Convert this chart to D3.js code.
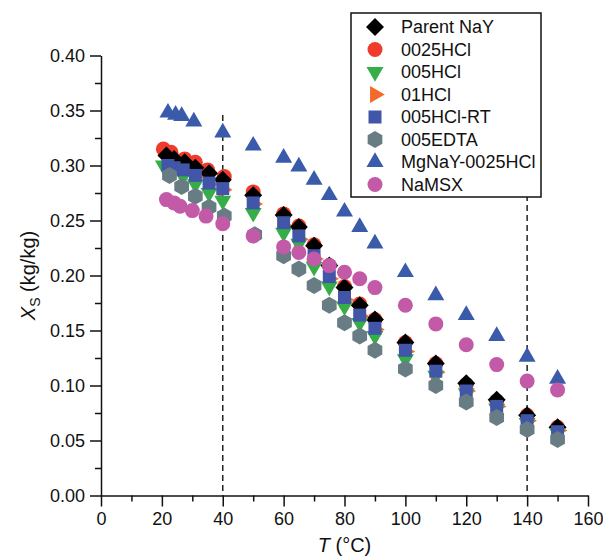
<!DOCTYPE html>
<html>
<head>
<meta charset="utf-8">
<script src="https://cdn.jsdelivr.net/npm/d3@7"></script>
<style>
  body { margin: 0; background: #fff; }
  text { font-family: "Liberation Sans", Arial, sans-serif; fill: #111; }
  .axis path, .axis line { stroke: #111; stroke-width: 1.5; }
</style>
</head>
<body>
<div id="chart"></div>
<script>
// data points: [T (°C), Xs (kg/kg)]
const parentNaY = [[21.5,0.309],[24,0.306],[27.5,0.303],[31,0.298],[35.5,0.293],[40,0.287],[50,0.273],[60,0.255],[65,0.244],[70,0.227],[75,0.209],[80,0.189],[85,0.173],[90,0.160],[100,0.139],[110,0.120],[120,0.102],[130,0.087],[140,0.073],[150,0.062]];
const hcl0025 = [[20.5,0.315],[23,0.312],[27.5,0.306],[31,0.303],[35,0.296],[40.5,0.290],[50,0.276],[60,0.256],[65,0.245],[70,0.228],[75,0.209],[80,0.190],[85,0.174],[90,0.160],[100,0.139],[110,0.120],[120,0.101],[130,0.086],[140,0.073],[150,0.062]];
const hcl005 = [[20.5,0.300],[23,0.296],[27,0.290],[31,0.283],[35.5,0.275],[40,0.268],[50,0.257],[60,0.239],[65,0.229],[70,0.208],[75,0.190],[80,0.172],[85,0.157],[90,0.145],[100,0.124],[110,0.109],[120,0.093],[130,0.079],[140,0.066],[150,0.057]];
const hcl01 = [[22,0.301],[24,0.299],[27,0.296],[31,0.290],[35.5,0.283],[40,0.278],[50,0.265],[60,0.245],[65,0.233],[70,0.215],[75,0.197],[80,0.178],[85,0.163],[90,0.151],[100,0.131],[110,0.112],[120,0.095],[130,0.081],[140,0.068],[150,0.059]];
const hcl005RT = [[22,0.300],[24,0.298],[27,0.296],[31,0.291],[35.5,0.284],[40,0.279],[50,0.266],[60,0.248],[65,0.236],[70,0.218],[75,0.199],[80,0.180],[85,0.164],[90,0.152],[100,0.132],[110,0.113],[120,0.095],[130,0.081],[140,0.068],[150,0.058]];
const edta005 = [[22.5,0.291],[26.5,0.281],[31,0.272],[35.5,0.262],[40.5,0.254],[50.5,0.237],[60,0.218],[65,0.206],[70,0.191],[75,0.173],[80,0.157],[85,0.145],[90,0.132],[100,0.115],[110,0.100],[120,0.085],[130,0.071],[140,0.060],[150,0.051]];
const mgNaY = [[22,0.348],[24.5,0.346],[26.5,0.345],[30.5,0.340],[40,0.330],[50,0.318],[60,0.307],[65,0.299],[70,0.287],[75,0.273],[80,0.258],[85,0.244],[90,0.229],[100,0.203],[110,0.182],[120,0.164],[130,0.145],[140,0.126],[150,0.106]];
const naMSX = [[21.5,0.269],[24,0.266],[26,0.263],[30,0.259],[34.5,0.254],[40,0.247],[50,0.236],[60,0.226],[65,0.221],[70,0.215],[75,0.209],[80,0.203],[85,0.197],[90,0.189],[100,0.173],[110,0.156],[120,0.137],[130,0.119],[140,0.104],[150,0.096]];

const legendNames = ["Parent NaY", "0025HCl", "005HCl", "01HCl", "005HCl-RT", "005EDTA", "MgNaY-0025HCl", "NaMSX"];
const xTicks = [0, 20, 40, 60, 80, 100, 120, 140, 160];
const xMinor = [10, 30, 50, 70, 90, 110, 130, 150];
const yTicks = [0, 0.05, 0.10, 0.15, 0.20, 0.25, 0.30, 0.35, 0.40];
const yMinor = [0.025, 0.075, 0.125, 0.175, 0.225, 0.275, 0.325, 0.375];
const dashedT = [40, 140];

// custom marker shapes, "size" = half width in px
const shapes = {
    circle: { draw(c, r) { c.moveTo(r, 0); c.arc(0, 0, r, 0, 2 * Math.PI); } },
    diamond: { draw(c, r) { c.moveTo(0, -r); c.lineTo(r, 0); c.lineTo(0, r); c.lineTo(-r, 0); c.closePath(); } },
    square: { draw(c, r) { c.rect(-r, -r, 2 * r, 2 * r); } },
    triUp: { draw(c, r) { const R = r / Math.sin(Math.PI / 3); c.moveTo(0, -R); c.lineTo(r, R / 2); c.lineTo(-r, R / 2); c.closePath(); } },
    triDown: { draw(c, r) { const R = r / Math.sin(Math.PI / 3); c.moveTo(0, R); c.lineTo(r, -R / 2); c.lineTo(-r, -R / 2); c.closePath(); } },
    triRight: { draw(c, r) { const R = r / Math.sin(Math.PI / 3); c.moveTo(R, 0); c.lineTo(-R / 2, r); c.lineTo(-R / 2, -r); c.closePath(); } },
    hexagon: { draw(c, r) { for (let k = 0; k < 6; k++) { const a = Math.PI / 2 + k * Math.PI / 3; const px = r * Math.cos(a), py = -r * Math.sin(a); k ? c.lineTo(px, py) : c.moveTo(px, py); } c.closePath(); } }
};

const series = [
    { name: legendNames[0], data: parentNaY, shape: "diamond", size: 9, color: "#000000" },
    { name: legendNames[1], data: hcl0025, shape: "circle", size: 7.5, color: "#ee3b2c" },
    { name: legendNames[2], data: hcl005, shape: "triDown", size: 8.5, color: "#35ae48" },
    { name: legendNames[3], data: hcl01, shape: "triRight", size: 8.5, color: "#f26b2b" },
    { name: legendNames[4], data: hcl005RT, shape: "square", size: 6.5, color: "#4156a8" },
    { name: legendNames[5], data: edta005, shape: "hexagon", size: 8.5, color: "#677d83" },
    { name: legendNames[6], data: mgNaY, shape: "triUp", size: 8.5, color: "#3a5aaa" },
    { name: legendNames[7], data: naMSX, shape: "circle", size: 7.5, color: "#c25aa8" }
];
// drawing order (later on top)
const drawOrder = [1, 3, 0, 2, 4, 5, 6, 7];

const W = 603, H = 560;
const x = d3.scaleLinear().domain([0, 160]).range([101, 588]);
const y = d3.scaleLinear().domain([0, 0.40]).range([495.5, 55.5]);

const svg = d3.select("#chart").append("svg")
    .attr("width", W).attr("height", H);

// dashed guide lines
svg.selectAll("line.guide")
    .data(dashedT)
    .enter().append("line")
    .attr("class", "guide")
    .attr("x1", d => x(d)).attr("x2", d => x(d))
    .attr("y1", y(0.346)).attr("y2", y(0))
    .attr("stroke", "#222").attr("stroke-width", 1.5)
    .attr("stroke-dasharray", "6,4");

// axes
const xAxis = svg.append("g").attr("class", "axis")
    .attr("transform", `translate(0,${y(0)})`)
    .call(d3.axisBottom(x).tickValues(xTicks).tickSize(11).tickSizeOuter(0).tickPadding(6));
xAxis.selectAll("text").style("font-size", "18px");
svg.append("g").attr("class", "axis")
    .attr("transform", `translate(0,${y(0)})`)
    .call(d3.axisBottom(x).tickValues(xMinor).tickSize(6).tickSizeOuter(0).tickFormat(""))
    .select(".domain").remove();

const yAxis = svg.append("g").attr("class", "axis")
    .attr("transform", `translate(${x(0)},0)`)
    .call(d3.axisLeft(y).tickValues(yTicks).tickSize(11).tickSizeOuter(0).tickPadding(5).tickFormat(d3.format(".2f")));
yAxis.selectAll("text").style("font-size", "18px");
svg.append("g").attr("class", "axis")
    .attr("transform", `translate(${x(0)},0)`)
    .call(d3.axisLeft(y).tickValues(yMinor).tickSize(6).tickSizeOuter(0).tickFormat(""))
    .select(".domain").remove();

// axis titles
const xTitle = svg.append("text")
    .attr("x", (x.range()[0] + x.range()[1]) / 2)
    .attr("y", 552)
    .attr("text-anchor", "middle")
    .style("font-size", "20px");
xTitle.append("tspan").style("font-style", "italic").text("T");
xTitle.append("tspan").text(" (°C)");

const yTitle = svg.append("text")
    .attr("transform", `translate(35,${(y.range()[0] + y.range()[1]) / 2}) rotate(-90)`)
    .attr("text-anchor", "middle")
    .style("font-size", "20px");
yTitle.append("tspan").style("font-style", "italic").text("X");
yTitle.append("tspan").attr("dy", 5).style("font-size", "14px").text("S");
yTitle.append("tspan").attr("dy", -5).text(" (kg/kg)");

// markers
const symbol = d3.symbol();
drawOrder.forEach(i => {
    const s = series[i];
    svg.append("g").selectAll("path")
        .data(s.data)
        .enter().append("path")
        .attr("transform", d => `translate(${x(d[0])},${y(d[1])})`)
        .attr("d", symbol.type(shapes[s.shape]).size(s.size)())
        .attr("fill", s.color);
});

// legend
const legend = svg.append("g").attr("transform", "translate(351,13)");
legend.append("rect")
    .attr("width", 190).attr("height", 184)
    .attr("fill", "#fff").attr("stroke", "#111").attr("stroke-width", 1.5);
const items = legend.selectAll("g.item")
    .data(series)
    .enter().append("g")
    .attr("class", "item")
    .attr("transform", (d, i) => `translate(24,${14 + i * 22.5})`);
items.append("path")
    .attr("d", d => d3.symbol().type(shapes[d.shape]).size(d.size)())
    .attr("fill", d => d.color);
items.append("text")
    .attr("x", 26).attr("dy", "0.35em")
    .style("font-size", "18px")
    .text(d => d.name);
</script>
</body>
</html>
